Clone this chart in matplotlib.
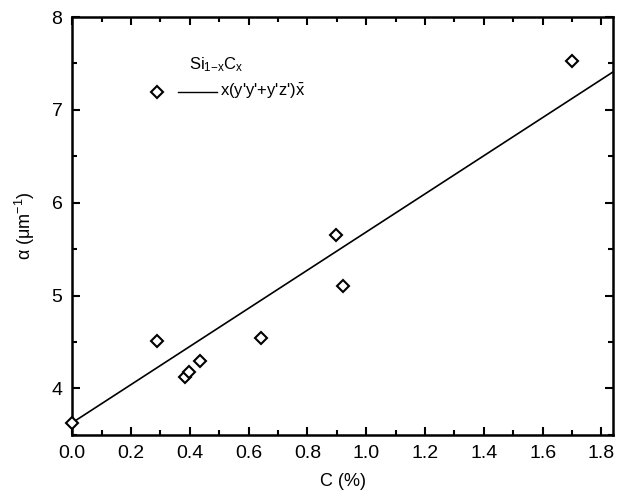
import numpy as np
import matplotlib
matplotlib.use('Agg')
import matplotlib.pyplot as plt
from matplotlib.lines import Line2D
from matplotlib.ticker import MultipleLocator

plt.rcParams['font.family'] = ['Liberation Sans', 'DejaVu Sans']
plt.rcParams['mathtext.fontset'] = 'custom'
plt.rcParams['mathtext.rm'] = 'Liberation Sans'
plt.rcParams['mathtext.it'] = 'Liberation Sans'

# measured points
c_pct = [0.0, 0.29, 0.383, 0.397, 0.434, 0.644, 0.898, 0.922, 1.70]
alpha = [3.63, 4.51, 4.12, 4.18, 4.30, 4.54, 5.65, 5.10, 7.53]

# linear fit line end points
fit_x = [0.0, 1.84]
fit_y = [3.63, 7.41]

fig = plt.figure(figsize=(6.27, 5.01), dpi=100)
ax = fig.add_axes([0.115, 0.132, 0.863, 0.834])

ax.plot(fit_x, fit_y, color='black', lw=1.2)
ax.plot(c_pct, alpha, linestyle='none', marker='D', markersize=6.5,
        markerfacecolor='white', markeredgecolor='black', markeredgewidth=1.5,
        clip_on=False, zorder=3)

ax.set_xlim(0, 1.84)
ax.set_ylim(3.5, 8)
ax.xaxis.set_major_locator(MultipleLocator(0.2))
ax.xaxis.set_minor_locator(MultipleLocator(0.1))
ax.yaxis.set_major_locator(MultipleLocator(1))
ax.yaxis.set_minor_locator(MultipleLocator(0.5))
ax.tick_params(which='both', direction='in', top=True, right=True, width=1.5,
               labelsize=14, pad=7)
ax.tick_params(which='major', length=6)
ax.tick_params(which='minor', length=3.5)
for s in ax.spines.values():
    s.set_linewidth(1.8)

ax.set_xlabel('C (%)', fontsize=13, labelpad=8)
ax.set_ylabel(r'α (μm$^{-1}$)', fontsize=13, labelpad=10)

# legend drawn Origin-style
ax.text(0.216, 0.885, r'Si$_{1\mathrm{-}x}$C$_x$', transform=ax.transAxes,
        fontsize=12, ha='left', va='center')
ax.add_line(Line2D([0.157], [0.821], transform=ax.transAxes, marker='D',
                   markersize=6.5, markerfacecolor='white', markeredgecolor='black',
                   markeredgewidth=1.5))
ax.add_line(Line2D([0.196, 0.268], [0.821, 0.821], transform=ax.transAxes,
                   color='black', lw=1.0))
ax.text(0.274, 0.821, r"x(y'y'+y'z')$\bar{\mathrm{x}}$", transform=ax.transAxes,
        fontsize=12, ha='left', va='center')

fig.savefig('out.png', dpi=100)
